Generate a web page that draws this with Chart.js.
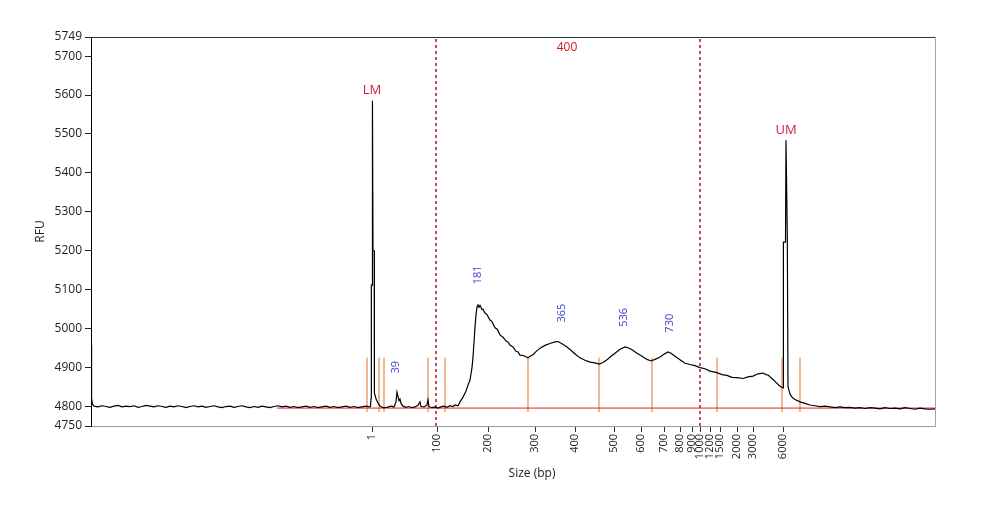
<!DOCTYPE html>
<html>
<head>
<meta charset="utf-8">
<script src="https://cdn.jsdelivr.net/npm/chart.js@4.4.0/dist/chart.umd.min.js"></script>
<style>
  html, body { margin: 0; padding: 0; background: #fff; }
  #wrap { width: 983px; height: 507px; }
</style>
</head>
<body>
<div id="wrap"><canvas id="trace"></canvas></div>
<script>
// size ladder (bp) and where each sits on the scan axis
const sizeLabels = ['1', '100', '200', '300', '400', '500', '600', '700', '800', '900', '1000', '1200', '1500', '2000', '3000', '6000'];
const sizeScan = [281, 346, 397, 444, 484, 523, 550, 573, 589, 601, 609, 619, 629, 646, 662, 692];

const rfuTicks = [4750, 4800, 4900, 5000, 5100, 5200, 5300, 5400, 5500, 5600, 5700, 5749];

// electropherogram trace
const traceScan = [
  0, 0.6, 1.5, 3, 7, 11, 15, 19, 23, 27, 31, 35, 39, 43, 47, 51, 55, 59, 63, 67, 71, 75, 79, 83, 87, 91, 95, 99,
  103, 107, 111, 115, 119, 123, 127, 131, 135, 139, 143, 147, 151, 155, 159, 163, 167, 171, 175, 179, 183, 187,
  191, 195, 199, 203, 207, 211, 215, 219, 223, 227, 231, 235, 239, 243, 247, 251, 255, 259, 263, 267, 271, 275, 278,
  279.5, 280, 280.3, 280.4, 281, 281.3, 281.6, 282, 283.2, 283.4, 285, 287, 289, 292, 296, 300, 303, 305, 306, 307,
  308, 309, 310, 312, 315, 318, 321, 324, 327, 329, 330, 333, 336, 337, 338, 341, 344, 347, 350, 353, 356, 359, 362,
  364, 367, 369, 372, 375, 377, 379, 381, 382, 383, 384, 385, 386, 387, 388, 389, 391, 392, 394, 396, 399, 401, 404,
  406, 409, 412, 415, 417, 419, 422, 425, 427, 429, 432, 435, 437, 439, 442, 445, 449, 454, 459, 464, 467, 471, 476,
  481, 485, 489, 494, 499, 504, 508, 512, 516, 520, 524, 529, 534, 537, 541, 546, 551, 556, 560, 564, 569, 573, 577,
  580, 584, 589, 594, 599, 604, 609, 614, 619, 626, 631, 636, 641, 646, 652, 657, 662, 667, 672, 675, 677, 681, 685,
  689, 692, 692.3, 692.5, 694.5, 695, 695.6, 696.3, 696.7, 697, 699, 701, 704, 709, 714, 719, 724, 729, 734, 739,
  744, 749, 754, 759, 764, 769, 774, 779, 784, 789, 794, 799, 804, 809, 814, 819, 824, 829, 834, 839, 844
];
const traceRfu = [
  4958, 4822, 4806, 4801, 4799, 4802, 4800, 4798, 4801, 4803, 4799, 4801, 4800, 4802, 4798, 4800, 4803, 4801, 4799, 4802, 4800, 4798, 4801, 4799, 4802, 4800, 4797, 4800,
  4802, 4799, 4801, 4798, 4800, 4802, 4799, 4797, 4800, 4801, 4798, 4800, 4802, 4799, 4797, 4800, 4798, 4801, 4799, 4797, 4800, 4802,
  4799, 4801, 4798, 4800, 4797, 4799, 4801, 4798, 4800, 4797, 4799, 4801, 4798, 4800, 4797, 4799, 4801, 4798, 4800, 4797, 4799, 4801, 4799,
  4800, 4820, 4835, 5112, 5112, 5585, 5585, 5200, 5200, 4835, 4820, 4809, 4801, 4797, 4798, 4801, 4799, 4812, 4837, 4826,
  4815, 4819, 4808, 4801, 4798, 4800, 4797, 4799, 4803, 4812, 4800, 4799, 4804, 4817, 4800, 4797, 4799, 4796, 4799, 4801, 4798, 4802, 4800,
  4804, 4802, 4812, 4824, 4840, 4855, 4868, 4900, 4927, 4965, 5004, 5035, 5056, 5061, 5055, 5060, 5049, 5050, 5040, 5036, 5022, 5018, 5002,
  4999, 4984, 4978, 4968, 4966, 4958, 4953, 4942, 4940, 4932, 4931, 4928, 4925, 4929, 4933, 4941, 4950, 4957, 4962, 4966, 4967, 4961, 4953,
  4942, 4933, 4925, 4919, 4914, 4912, 4909, 4913, 4920, 4929, 4937, 4947, 4953, 4951, 4946, 4937, 4929, 4921, 4917, 4921, 4927, 4934, 4940,
  4937, 4929, 4920, 4911, 4908, 4905, 4900, 4897, 4891, 4887, 4882, 4880, 4875, 4874, 4872, 4876, 4878, 4884, 4886, 4882, 4881, 4872, 4862,
  4852, 4848, 4860, 5222, 5222, 5484, 5484, 5236, 5236, 4851, 4832, 4824, 4818, 4812, 4808, 4804, 4802, 4800, 4801, 4799,
  4797, 4799, 4797, 4798, 4796, 4797, 4795, 4797, 4796, 4794, 4797, 4795, 4796, 4794, 4797, 4795, 4793, 4796, 4794, 4793, 4794
];

// ladder markers and called peaks
const markerNames = ['LM', 'UM'];
const markerScan = [281, 695];
const markerRfu = [5613, 5510];
const peakSizes = ['39', '181', '365', '536', '730'];
const peakScan = [305, 387, 471, 533, 579];
const peakRfu = [4901, 5138, 5040, 5029, 5014];

// peak borders (orange ticks), baseline and the 400 bp window
const borderScan = [276, 288, 293, 337, 354, 437, 508, 561, 626, 691, 709];
const borderLow = 4786, borderHigh = 4925;
const baselineFrom = 186, baselineTo = 844, baselineRfu = 4796;
const windowScan = [345, 609];
const windowLabel = '400';

const FONT = '"Open Sans", "DejaVu Sans", sans-serif';

const borderPts = [];
borderScan.forEach(s => {
    borderPts.push({ x: s, y: borderLow }, { x: s, y: borderHigh }, { x: s, y: null });
});
const windowPts = [];
windowScan.forEach(s => {
    windowPts.push({ x: s, y: 4750 }, { x: s, y: 5749 }, { x: s, y: null });
});

const overlay = {
    id: 'overlay',
    afterDatasetsDraw(chart) {
        const { ctx, chartArea: a, scales: { x, y } } = chart;
        ctx.save();
        ctx.textAlign = 'center';
        ctx.textBaseline = 'middle';

        ctx.fillStyle = '#d4163a';
        ctx.font = '13px ' + FONT;
        markerNames.forEach((n, i) => {
            ctx.fillText(n, x.getPixelForValue(markerScan[i]), y.getPixelForValue(markerRfu[i]));
        });
        ctx.fillStyle = '#d01422';
        ctx.font = '12px ' + FONT;
        ctx.fillText(windowLabel, x.getPixelForValue((windowScan[0] + windowScan[1]) / 2 - 1), 48);

        ctx.fillStyle = '#3c3cd2';
        ctx.font = '11px ' + FONT;
        peakSizes.forEach((p, i) => {
            ctx.save();
            ctx.translate(x.getPixelForValue(peakScan[i]), y.getPixelForValue(peakRfu[i]));
            ctx.rotate(-Math.PI / 2);
            ctx.fillText(p, 0, 0);
            ctx.restore();
        });

        // frame top and right
        ctx.lineWidth = 1;
        ctx.strokeStyle = '#333';
        ctx.beginPath();
        ctx.moveTo(a.left, a.top + 0.5);
        ctx.lineTo(a.right, a.top + 0.5);
        ctx.stroke();
        ctx.strokeStyle = '#a8a8a8';
        ctx.beginPath();
        ctx.moveTo(a.right + 0.5, a.top);
        ctx.lineTo(a.right + 0.5, a.bottom);
        ctx.stroke();

        ctx.fillStyle = '#222';
        ctx.font = '12px ' + FONT;
        ctx.fillText('Size (bp)', 532, 474);
        ctx.restore();
    }
};

const ctx = document.getElementById('trace').getContext('2d');
const chart = new Chart(ctx, {
    type: 'line',
    data: {
        datasets: [
            {
                data: traceScan.map((s, i) => ({ x: s, y: traceRfu[i] })),
                borderColor: '#000',
                borderWidth: 1.2,
                order: 0
            },
            {
                data: [{ x: baselineFrom, y: baselineRfu }, { x: baselineTo, y: baselineRfu }],
                borderColor: '#e8202a',
                borderWidth: 1,
                order: 1
            },
            {
                data: borderPts,
                borderColor: '#e8894c',
                borderWidth: 1.2,
                spanGaps: false,
                order: 2
            },
            {
                data: windowPts,
                borderColor: '#b8102a',
                borderWidth: 1.5,
                borderDash: [3, 3],
                spanGaps: false,
                order: 3
            }
        ]
    },
    options: {
        responsive: true,
        maintainAspectRatio: false,
        animation: false,
        events: [],
        elements: { point: { radius: 0 }, line: { tension: 0 } },
        layout: { padding: { top: 37, right: 48, left: 0, bottom: 0 } },
        plugins: { legend: { display: false }, tooltip: { enabled: false } },
        scales: {
            x: {
                type: 'linear',
                min: 0,
                max: 844,
                afterBuildTicks: s => { s.ticks = sizeScan.map(v => ({ value: v })); },
                afterFit: s => { s.height = 81; },
                border: { color: '#9a9a9a' },
                grid: { drawOnChartArea: false, tickLength: 6, tickColor: '#333' },
                ticks: {
                    autoSkip: false,
                    minRotation: 90,
                    maxRotation: 90,
                    padding: 2,
                    color: '#222',
                    font: { family: FONT, size: 11 },
                    callback: (v, i) => sizeLabels[i]
                }
            },
            y: {
                min: 4750,
                max: 5749,
                afterBuildTicks: s => { s.ticks = rfuTicks.map(v => ({ value: v })); },
                afterFit: s => { s.width = 91; },
                border: { color: '#000' },
                grid: { drawOnChartArea: false, tickLength: 6, tickColor: '#222' },
                ticks: {
                    padding: 3,
                    color: '#222',
                    font: { family: FONT, size: 12 },
                    callback: v => String(v)
                },
                title: {
                    display: true,
                    text: 'RFU',
                    color: '#222',
                    font: { family: FONT, size: 12 },
                    padding: { top: 33, bottom: 0 }
                }
            }
        }
    },
    plugins: [overlay]
});
</script>
</body>
</html>
